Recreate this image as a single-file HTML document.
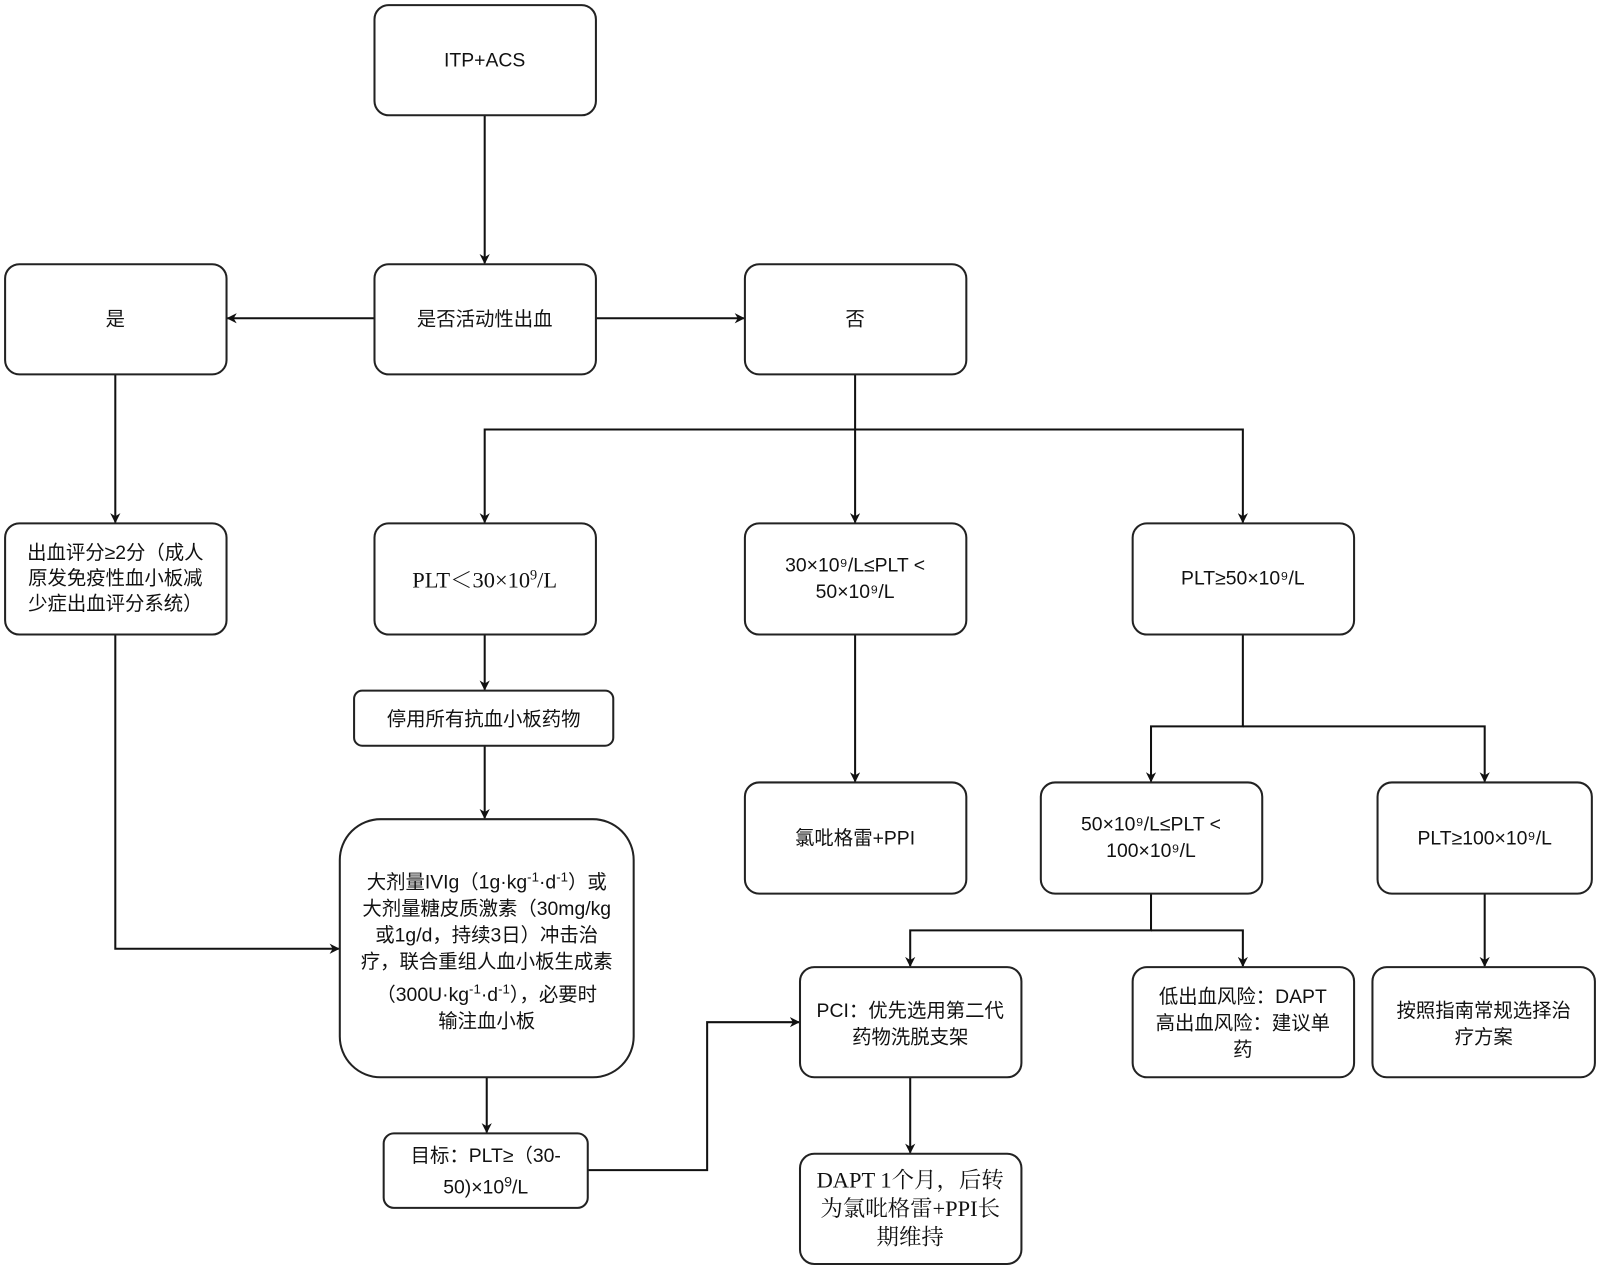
<!DOCTYPE html>
<html><head><meta charset="utf-8"><style>
html,body{margin:0;padding:0;background:#fff;}
svg{display:block}
text{font-family:"Liberation Sans","Noto Sans CJK SC",sans-serif;font-size:19px;fill:#111;text-anchor:middle}
.s{font-family:"Liberation Serif","Noto Serif CJK SC",serif;font-size:22px}
rect{fill:#fff;stroke:#222;stroke-width:2}
.l{fill:none;stroke:#111;stroke-width:2}
</style></head><body>
<svg width="1600" height="1266" viewBox="0 0 1568 1241" preserveAspectRatio="none" xmlns="http://www.w3.org/2000/svg">
<defs><marker id="a" markerWidth="10" markerHeight="10" refX="9" refY="5" orient="auto" markerUnits="userSpaceOnUse"><path d="M0,0 L10,5 L0,10 L3,5 z" fill="#111"/></marker></defs>
<g class="l" marker-end="url(#a)">
<path class="l" d="M475,113 V258" marker-end="url(#a)"/>
<path class="l" d="M367,312 H223" marker-end="url(#a)"/>
<path class="l" d="M584,312 H729" marker-end="url(#a)"/>
<path class="l" d="M113,367 V512" marker-end="url(#a)"/>
<path class="l" d="M838,367 V512" marker-end="url(#a)"/>
<path class="l" d="M838,421 H475 V512" marker-end="url(#a)"/>
<path class="l" d="M838,421 H1218 V512" marker-end="url(#a)"/>
<path class="l" d="M475,622 V676" marker-end="url(#a)"/>
<path class="l" d="M475,731 V802" marker-end="url(#a)"/>
<path class="l" d="M113,622 V930 H332" marker-end="url(#a)"/>
<path class="l" d="M477,1056 V1110" marker-end="url(#a)"/>
<path class="l" d="M576,1147 H693 V1002 H783" marker-end="url(#a)"/>
<path class="l" d="M892,1056 V1130" marker-end="url(#a)"/>
<path class="l" d="M838,622 V766" marker-end="url(#a)"/>
<path class="l" d="M1218,622 V712 H1128 V766" marker-end="url(#a)"/>
<path class="l" d="M1218,712 H1455 V766" marker-end="url(#a)"/>
<path class="l" d="M1128,876 V912 H892 V947" marker-end="url(#a)"/>
<path class="l" d="M1128,912 H1218 V947" marker-end="url(#a)"/>
<path class="l" d="M1455,876 V947" marker-end="url(#a)"/>
</g>
<rect x="367" y="5" width="217" height="108" rx="14"/>
<rect x="5" y="259" width="217" height="108" rx="14"/>
<rect x="367" y="259" width="217" height="108" rx="14"/>
<rect x="730" y="259" width="217" height="108" rx="14"/>
<rect x="5" y="513" width="217" height="109" rx="14"/>
<rect x="367" y="513" width="217" height="109" rx="14"/>
<rect x="730" y="513" width="217" height="109" rx="14"/>
<rect x="1110" y="513" width="217" height="109" rx="14"/>
<rect x="347" y="677" width="254" height="54" rx="8"/>
<rect x="333" y="803" width="288" height="253" rx="40"/>
<rect x="376" y="1111" width="200" height="73" rx="10"/>
<rect x="730" y="767" width="217" height="109" rx="14"/>
<rect x="1020" y="767" width="217" height="109" rx="14"/>
<rect x="1350" y="767" width="210" height="109" rx="14"/>
<rect x="784" y="948" width="217" height="108" rx="14"/>
<rect x="1110" y="948" width="217" height="108" rx="14"/>
<rect x="1345" y="948" width="218" height="108" rx="14"/>
<rect x="784" y="1131" width="217" height="108" rx="14"/>
<text x="475" y="65">ITP+ACS</text>
<text x="113" y="319">是</text>
<text x="475" y="319">是否活动性出血</text>
<text x="838" y="319">否</text>
<text x="113" y="548">出血评分≥2分（成人</text>
<text x="113" y="573">原发免疫性血小板减</text>
<text x="113" y="598">少症出血评分系统）</text>
<text class="s" x="475" y="576">PLT＜30×10<tspan dy="-8" font-size="14">9</tspan><tspan dy="8">/L</tspan></text>
<text x="838" y="560">30×10⁹/L≤PLT &lt;</text>
<text x="838" y="586">50×10⁹/L</text>
<text x="1218" y="573">PLT≥50×10⁹/L</text>
<text x="474" y="711">停用所有抗血小板药物</text>
<text x="477" y="871">大剂量IVIg（1g·kg<tspan dy="-7" font-size="13">-1</tspan><tspan dy="7">·d</tspan><tspan dy="-7" font-size="13">-1</tspan><tspan dy="7">）或</tspan></text>
<text x="477" y="897">大剂量糖皮质激素（30mg/kg</text>
<text x="477" y="923">或1g/d，持续3日）冲击治</text>
<text x="477" y="949">疗，联合重组人血小板生成素</text>
<text x="477" y="981">（300U·kg<tspan dy="-7" font-size="13">-1</tspan><tspan dy="7">·d</tspan><tspan dy="-7" font-size="13">-1</tspan><tspan dy="7">），必要时</tspan></text>
<text x="477" y="1007">输注血小板</text>
<text x="476" y="1139">目标：PLT≥（30-</text>
<text x="476" y="1170">50)×10<tspan dy="-7" font-size="14">9</tspan><tspan dy="7">/L</tspan></text>
<text x="838" y="828">氯吡格雷+PPI</text>
<text x="1128" y="814">50×10⁹/L≤PLT &lt;</text>
<text x="1128" y="840">100×10⁹/L</text>
<text x="1455" y="828">PLT≥100×10⁹/L</text>
<text x="892" y="997">PCI：优先选用第二代</text>
<text x="892" y="1023">药物洗脱支架</text>
<text x="1218" y="983">低出血风险：DAPT</text>
<text x="1218" y="1009">高出血风险：建议单</text>
<text x="1218" y="1035">药</text>
<text x="1454" y="997">按照指南常规选择治</text>
<text x="1454" y="1023">疗方案</text>
<text class="s" x="892" y="1164">DAPT 1个月，后转</text>
<text class="s" x="892" y="1192">为氯吡格雷+PPI长</text>
<text class="s" x="892" y="1220">期维持</text>
</svg>
</body></html>
